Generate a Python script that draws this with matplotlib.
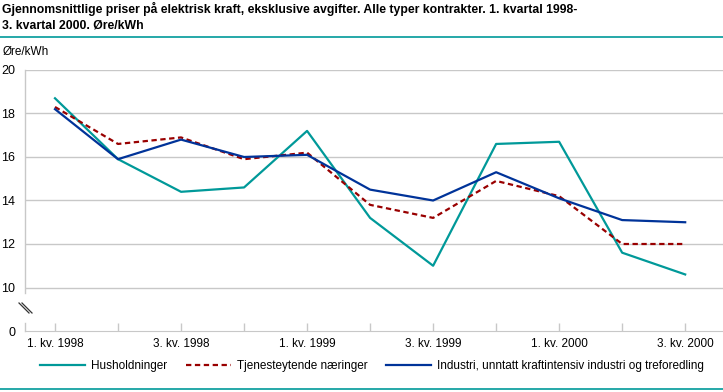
import matplotlib.pyplot as plt
from matplotlib.lines import Line2D

# kvartaler 1. kv. 1998 - 3. kv. 2000
quarters = ["1. kv. 1998", "2. kv. 1998", "3. kv. 1998", "4. kv. 1998",
            "1. kv. 1999", "2. kv. 1999", "3. kv. 1999", "4. kv. 1999",
            "1. kv. 2000", "2. kv. 2000", "3. kv. 2000"]
husholdninger = [18.7, 15.9, 14.4, 14.6, 17.2, 13.2, 11.0, 16.6, 16.7, 11.6, 10.6]
tjenesteytende = [18.3, 16.6, 16.9, 15.9, 16.2, 13.8, 13.2, 14.9, 14.2, 12.0, 12.0]
industri = [18.2, 15.9, 16.8, 16.0, 16.1, 14.5, 14.0, 15.3, 14.1, 13.1, 13.0]
series_names = ["Husholdninger", "Tjenesteytende næringer",
                "Industri, unntatt kraftintensiv industri og treforedling"]
y_ticks = [0, 10, 12, 14, 16, 18, 20]

title = ("Gjennomsnittlige priser på elektrisk kraft, eksklusive avgifter. "
         "Alle typer kontrakter. 1. kvartal 1998-\n3. kvartal 2000. Øre/kWh")

plt.rcParams['font.family'] = ['Liberation Sans', 'DejaVu Sans']

TEAL = "#009999"
RED = "#990000"
BLUE = "#003399"
GRID = "#c8c8c8"

W, H = 723, 392
fig = plt.figure(figsize=(W / 100, H / 100), dpi=100)
ax = fig.add_axes([25 / W, 1 - 331 / H, (W - 25) / W, (331 - 70) / H])

# brudd i aksen: 0 tegnes på posisjon 8
def ypos(v):
    return v if v >= 10 else 8 + v

x = list(range(len(quarters)))
ax.plot(x, husholdninger, color=TEAL, lw=1.6, label=series_names[0])
l2, = ax.plot(x, tjenesteytende, color=RED, lw=1.6, label=series_names[1])
l2.set_dashes([2.4, 1.6])
ax.plot(x, industri, color=BLUE, lw=1.6, label=series_names[2])

ax.set_xlim(-0.476, 10.6)
ax.set_ylim(8, 20)
ax.set_yticks([ypos(v) for v in y_ticks])
ax.set_yticklabels([str(v) for v in y_ticks], fontsize=9)
for v in y_ticks[1:]:
    ax.axhline(v, color=GRID, lw=1, zorder=0)

ax.set_xticks(x)
ax.set_xticklabels([q if i % 2 == 0 else "" for i, q in enumerate(quarters)], fontsize=8.5)
ax.tick_params(axis='x', direction='in', length=6, color=GRID, width=1, pad=5)
ax.tick_params(axis='y', length=0, pad=7)

for s in ['top', 'right', 'left']:
    ax.spines[s].set_visible(False)
ax.spines['bottom'].set_color(GRID)

ytr = ax.get_yaxis_transform()
ax.plot([0, 0], [9.75, 20], color=GRID, lw=1, transform=ytr, clip_on=False)
ax.plot([0, 0], [8, 8.38], color=GRID, lw=1, transform=ytr, clip_on=False)
for dx in (0, 3):
    fig.add_artist(Line2D([(19 + dx) / W, (29 + dx) / W], [1 - 303 / H, 1 - 313 / H],
                          color="#333333", lw=0.9))

fig.text(2 / W, 1 - 2 / H, title, ha='left', va='top', fontsize=8.8,
         fontweight='bold', linespacing=1.35)
fig.add_artist(Line2D([0, 1], [1 - 37 / H, 1 - 37 / H], color=TEAL, lw=1.2))
fig.add_artist(Line2D([0, 1], [1 - 389 / H, 1 - 389 / H], color=TEAL, lw=1.2))
fig.text(3 / W, 1 - 52 / H, "Øre/kWh", ha='left', va='center', fontsize=8.5)

fig.legend(loc='center', bbox_to_anchor=(372 / W, 1 - 366 / H), ncol=3,
           frameon=False, fontsize=8.5, handlelength=3.8, columnspacing=1.6,
           handletextpad=0.5)

fig.savefig("out.png", dpi=100)
